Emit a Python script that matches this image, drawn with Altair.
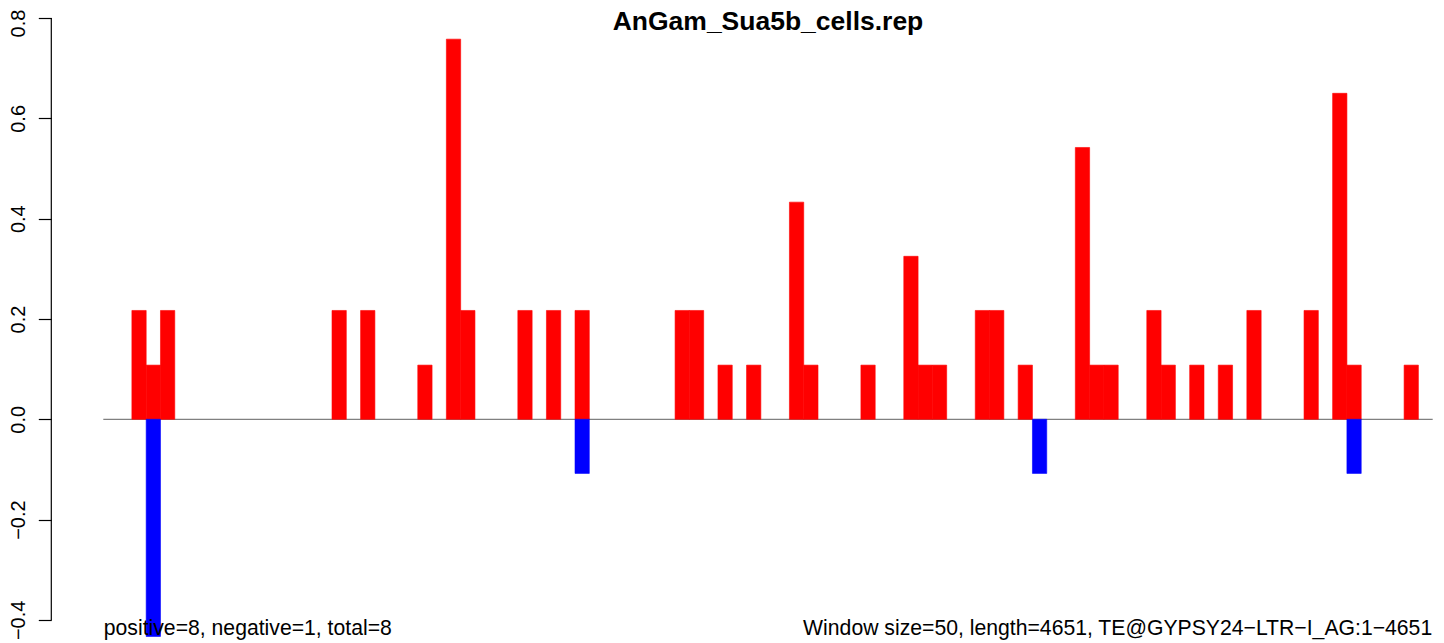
import altair as alt
import pandas as pd

# ---- data ----
n_bins = 93
pos_idx = [2, 3, 4, 16, 18, 22, 24, 25, 29, 31, 33, 40, 41, 43, 45, 48, 49, 53,
           56, 57, 58, 61, 62, 64, 68, 69, 70, 73, 74, 76, 78, 80, 84, 86, 87, 91]
pos_val = [0.217, 0.108, 0.217, 0.217, 0.217, 0.108, 0.758, 0.217, 0.217, 0.217,
           0.217, 0.217, 0.217, 0.108, 0.108, 0.433, 0.108, 0.108, 0.325, 0.108,
           0.108, 0.217, 0.217, 0.108, 0.542, 0.108, 0.108, 0.217, 0.108, 0.108,
           0.108, 0.217, 0.217, 0.650, 0.108, 0.108]
neg_idx = [3, 33, 65, 87]
neg_val = [-0.433, -0.108, -0.108, -0.108]
y_ticks = [-0.4, -0.2, 0.0, 0.2, 0.4, 0.6, 0.8]

title_text = "AnGam_Sua5b_cells.rep"
left_note = "positive=8, negative=1, total=8"
right_note = "Window size=50, length=4651, TE@GYPSY24\u2212LTR\u2212I_AG:1\u22124651"

FONT = "Liberation Sans"
W = 1329.4
H = 632
YDOM = [-0.4401, 0.8201]

bars = pd.DataFrame({
    "idx": pos_idx + neg_idx,
    "value": pos_val + neg_val,
    "sign": ["pos"] * len(pos_idx) + ["neg"] * len(neg_idx),
})

xscale = alt.Scale(domain=[0, n_bins], nice=False, zero=False)
yscale = alt.Scale(domain=YDOM, nice=False, zero=False)
cscale = alt.Scale(domain=["pos", "neg"], range=["#FF0000", "#0000FF"])

base_line = alt.Chart(pd.DataFrame({"a": [0]})).mark_rule(
    color="#808080", strokeWidth=1.2
).encode(
    x=alt.value(0), x2=alt.value(W),
    y=alt.Y("a:Q", scale=yscale, axis=alt.Axis(
        values=y_ticks, format=".1f", title=None, grid=False, domain=False,
        offset=52, tickSize=13, tickColor="black", tickWidth=1.2,
        labelAngle=-90, labelFont=FONT, labelFontSize=20, labelColor="black",
        labelPadding=9.5, labelAlign="center", labelBaseline="bottom",
        labelOffset={"condition": {"test": "datum.value > 0.7", "value": 5}, "value": 0},
    )),
)

bar_layer = alt.Chart(bars).transform_calculate(
    idx_end="datum.idx + 1", zero="0"
).mark_bar(strokeWidth=0.6).encode(
    x=alt.X("idx:Q", scale=xscale, axis=None),
    x2="idx_end:Q",
    y=alt.Y("zero:Q", scale=yscale),
    y2="value:Q",
    color=alt.Color("sign:N", scale=cscale, legend=None),
    stroke=alt.Stroke("sign:N", scale=cscale, legend=None),
)

axis_line = alt.Chart(pd.DataFrame({"lo": [y_ticks[0]], "hi": [y_ticks[-1]]})).mark_rule(
    color="black", strokeWidth=1.2
).encode(
    x=alt.value(-52),
    y=alt.Y("lo:Q", scale=yscale),
    y2="hi:Q",
)

title_layer = alt.Chart(pd.DataFrame({"t": [title_text]})).mark_text(
    font=FONT, fontSize=26.5, fontWeight="bold", align="center", baseline="alphabetic", color="black"
).encode(x=alt.value(W / 2), y=alt.value(22), text="t:N")

left_layer = alt.Chart(pd.DataFrame({"t": [left_note]})).mark_text(
    font=FONT, fontSize=21.2, align="left", baseline="alphabetic", color="black"
).encode(x=alt.value(0.5), y=alt.value(627), text="t:N")

right_layer = alt.Chart(pd.DataFrame({"t": [right_note]})).mark_text(
    font=FONT, fontSize=21.2, align="right", baseline="alphabetic", color="black"
).encode(x=alt.value(W - 0.5), y=alt.value(627), text="t:N")

chart = alt.layer(
    base_line, bar_layer, axis_line, title_layer, left_layer, right_layer
).properties(
    width=W, height=H,
    autosize=alt.AutoSizeParams(type="none"),
    padding={"left": 95.3, "top": 0, "right": 0, "bottom": 0},
).configure(background="white").configure_view(stroke=None)

chart.save("out.html", embed_options={"renderer": "svg", "actions": False})
